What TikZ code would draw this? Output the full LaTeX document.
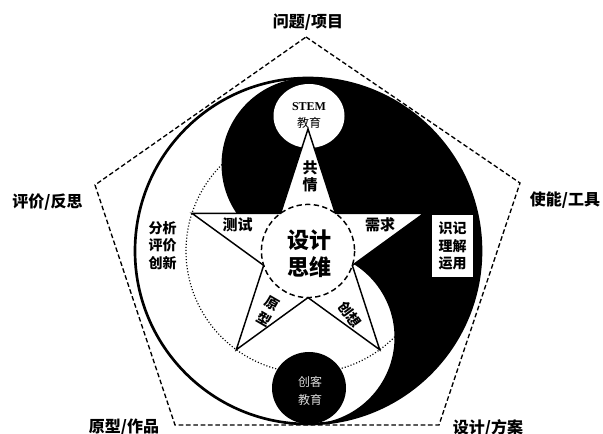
\documentclass[tikz,border=0pt]{standalone}
\usepackage{fontspec}
\usetikzlibrary{calc}
\newfontfamily\cjk{Noto Sans CJK SC}
\newfontfamily\tms{Liberation Serif}
\begin{document}
\begin{tikzpicture}[x=0.75pt,y=-0.75pt,
  pent/.style={line width=1pt,dash pattern=on 3.5pt off 2pt},
  outerlbl/.style={font=\cjk\bfseries\fontsize{12}{14}\selectfont,inner sep=0pt},
  armlbl/.style={font=\cjk\bfseries\fontsize{11.25}{12.75}\selectfont,align=center,inner sep=0pt},
  rotlbl/.style={font=\cjk\bfseries\fontsize{10.5}{11}\selectfont,inner sep=0pt},
  sidelbl/.style={font=\cjk\bfseries\fontsize{10.5}{12.9}\selectfont,align=center,inner sep=0pt},
  starline/.style={line width=1.1pt,line join=miter,fill=white},
]
\useasboundingbox (0,0) rectangle (603,434);
\coordinate (C) at (308,251);
% pentagon
\coordinate (P1) at (306,37);
\coordinate (P2) at (520,183);
\coordinate (P3) at (439,425);
\coordinate (P4) at (175,425);
\coordinate (P5) at (95,185);
\draw[pent] (P1)--(P2)--(P3)--(P4)--(P5)--cycle;
% yin-yang black part
\fill[black] (308,78) arc[start angle=-90,end angle=90,radius=173]
  arc[start angle=90,end angle=-90,radius=86.5]
  arc[start angle=90,end angle=270,radius=86.5] -- cycle;
\draw[line width=2pt] (C) circle[radius=173];
% dotted circle
\draw[line width=0.9pt,dash pattern=on 0.8pt off 1.5pt] (C) circle[radius=122];
% STEM circle
\fill[white] (309,116) ellipse[x radius=35.5,y radius=32];
% star
\foreach \i/\a in {0/-90,1/-18,2/54,3/126,4/198}{
  \coordinate (S\i) at ($(C)+(\a:122)$);
  \coordinate (I\i) at ($(C)+(\a+36:46.6)$);
}
\draw[starline] (S0)--(I0)--(S1)--(I1)--(S2)--(I2)--(S3)--(I3)--(S4)--(I4)--cycle;
\draw[line width=1.1pt,dash pattern=on 4pt off 2.5pt] (C) circle[radius=46.6];
% bottom black circle
\fill[black] (309,388) ellipse[x radius=37,y radius=36];
% box
\node[fill=white,minimum width=30.75pt,minimum height=46.5pt,inner sep=0pt] (box) at (452.5,246) {};
% texts
\node[outerlbl] (t1) at (308,22) {问题/项目};
\node[outerlbl] (t2) at (47.5,202) {评价/反思};
\node[outerlbl] (t3) at (565,200) {使能/工具};
\node[outerlbl] (t4) at (124,427) {原型/作品};
\node[outerlbl] (t5) at (488,428) {设计/方案};
\node[font=\tms\bfseries\fontsize{9}{10}\selectfont,inner sep=0pt] (stem) at (309,107) {STEM};
\node[font=\cjk\fontsize{9}{10}\selectfont,inner sep=0pt] (stemjy) at (309,123) {教育};
\node[font=\cjk\fontsize{9}{13.5}\selectfont,text=white!85!black,align=center,inner sep=0pt] (ck) at (310,391) {创客\\教育};
\node[font=\cjk\bfseries\fontsize{16.5}{20.25}\selectfont,align=center,inner sep=0pt] (sj) at (309,254) {设计\\思维};
\node[armlbl] (gq) at (310,176.5) {共\\情};
\node[armlbl] (cs) at (237.5,225) {测试};
\node[armlbl] (xq) at (380,225) {需求};
\node[rotlbl,rotate=-30] (yx1) at (272,304) {原};
\node[rotlbl,rotate=-30] (yx2) at (264,319) {型};
\node[rotlbl,rotate=-54] (cx) at (350,314.5) {创想};
\node[sidelbl] (fx) at (162.5,245.5) {分析\\评价\\创新};
\node[sidelbl] (sh) at (box) {识记\\理解\\运用};
\end{tikzpicture}
\end{document}
